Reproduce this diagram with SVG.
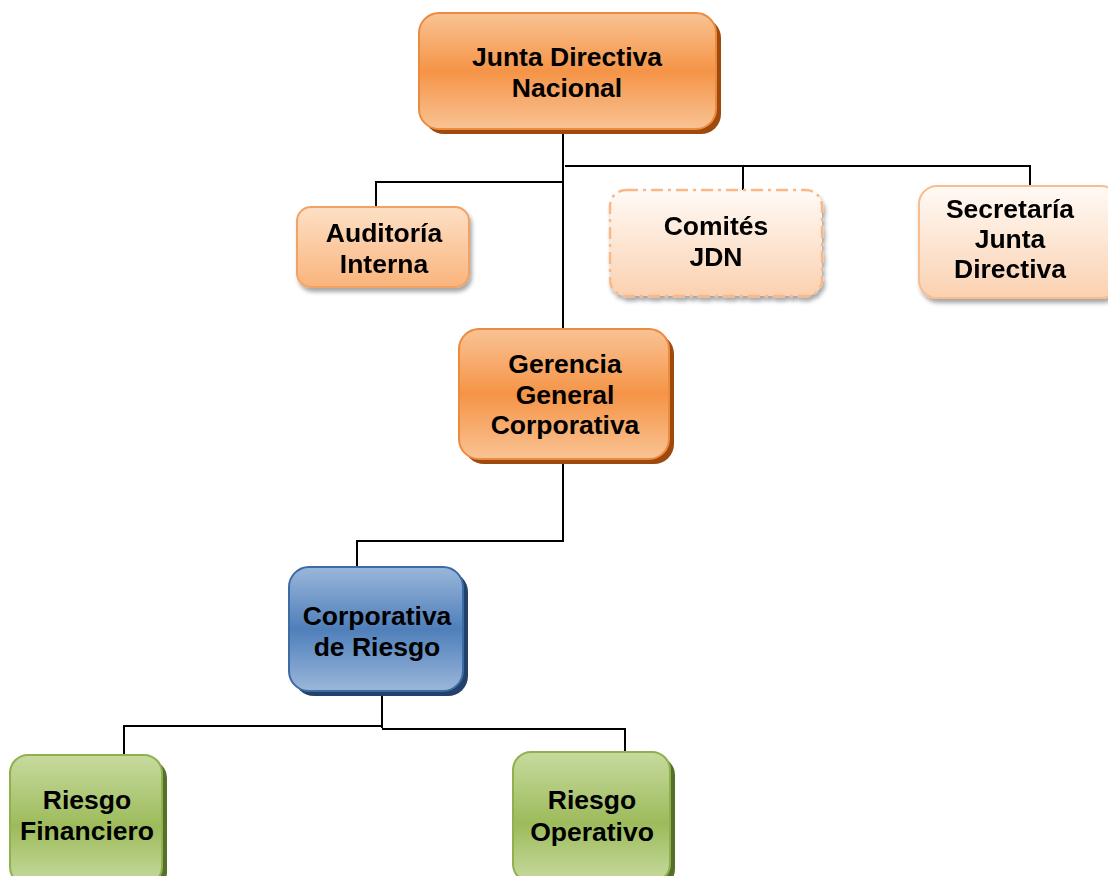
<svg xmlns="http://www.w3.org/2000/svg" width="1108" height="876" viewBox="0 0 1108 876">
<defs>
<linearGradient id="gOr" x1="0" y1="0" x2="0" y2="1">
<stop offset="0" stop-color="#f9c394"/><stop offset="0.5" stop-color="#f59447"/><stop offset="1" stop-color="#f9c394"/>
</linearGradient>
<linearGradient id="gAud" x1="0" y1="0" x2="0" y2="1">
<stop offset="0" stop-color="#fde0c6"/><stop offset="1" stop-color="#fab47c"/>
</linearGradient>
<linearGradient id="gLt" x1="0" y1="0" x2="0" y2="1">
<stop offset="0" stop-color="#fffaf6"/><stop offset="1" stop-color="#fbd1b0"/>
</linearGradient>
<linearGradient id="gBl" x1="0" y1="0" x2="0" y2="1">
<stop offset="0" stop-color="#9ab7da"/><stop offset="0.5" stop-color="#4f7fba"/><stop offset="1" stop-color="#9ab7da"/>
</linearGradient>
<linearGradient id="gGr" x1="0" y1="0" x2="0" y2="1">
<stop offset="0" stop-color="#c7da9f"/><stop offset="0.55" stop-color="#9dbb5b"/><stop offset="1" stop-color="#c7da9f"/>
</linearGradient>
<filter id="soft" x="-10%" y="-10%" width="130%" height="130%">
<feGaussianBlur in="SourceAlpha" stdDeviation="2"/>
<feOffset dx="2" dy="4" result="b"/>
<feComponentTransfer><feFuncA type="linear" slope="0.35"/></feComponentTransfer>
<feMerge><feMergeNode/><feMergeNode in="SourceGraphic"/></feMerge>
</filter>
</defs>
<style>
text{font-family:"Liberation Sans",Arial,sans-serif;font-weight:bold;font-size:26.5px;fill:#000;text-anchor:middle}
.ln{fill:none;stroke:#000;stroke-width:2}
.sOr{fill:#9e4a0c}
.sBl{fill:#24416a}
.sGr{fill:#55702a}
</style>
<rect width="1108" height="876" fill="#fff"/>
<g id="connectors">
<path class="ln" d="M563 131 V330"/>
<path class="ln" d="M563 131 V166" stroke-width="3.5"/>
<path class="ln" d="M565 166 H1030 V186"/>
<path class="ln" d="M743 166 V190"/>
<path class="ln" d="M563 182 H376 V207"/>
<path class="ln" d="M563 461 V541 H357 V567" stroke-width="1.3"/>
<path class="ln" d="M382 692 V728" stroke-width="3.5"/>
<path class="ln" d="M382 726 H124 V755"/>
<path class="ln" d="M382 729 H625 V752"/>
</g>
<g id="jdn">
<rect class="sOr" x="424" y="18" width="297" height="116" rx="20"/>
<rect x="419" y="13" width="297" height="116" rx="20" fill="url(#gOr)" stroke="#ec8a3e" stroke-width="2"/>
<text x="567" y="66">Junta Directiva</text>
<text x="567" y="97">Nacional</text>
</g>
<g id="auditoria" filter="url(#soft)">
<rect x="297" y="207" width="172" height="80" rx="14" fill="url(#gAud)" stroke="#f2a264" stroke-width="2"/>
<text x="384" y="242">Auditoría</text>
<text x="384" y="273">Interna</text>
</g>
<g id="comites" filter="url(#soft)">
<rect x="610" y="190" width="212" height="106" rx="16" fill="url(#gLt)" stroke="#f8b887" stroke-width="2.5" stroke-dasharray="12,5,3,5"/>
<text x="716" y="235">Comités</text>
<text x="716" y="266">JDN</text>
</g>
<g id="secretaria" filter="url(#soft)">
<rect x="919" y="186" width="200" height="112" rx="18" fill="url(#gLt)" stroke="#f8bd8e" stroke-width="2"/>
<text x="1010" y="218">Secretaría</text>
<text x="1010" y="248">Junta</text>
<text x="1010" y="278">Directiva</text>
</g>
<g id="gerencia">
<rect class="sOr" x="464" y="334" width="210" height="130" rx="20"/>
<rect x="459" y="329" width="210" height="130" rx="20" fill="url(#gOr)" stroke="#ec8a3e" stroke-width="2"/>
<text x="565" y="373">Gerencia</text>
<text x="565" y="404">General</text>
<text x="565" y="434">Corporativa</text>
</g>
<g id="corporativa">
<rect class="sBl" x="294" y="572" width="174" height="124" rx="20"/>
<rect x="289" y="567" width="174" height="124" rx="20" fill="url(#gBl)" stroke="#3d6ba3" stroke-width="2"/>
<text x="377" y="625">Corporativa</text>
<text x="377" y="656">de Riesgo</text>
</g>
<g id="financiero">
<rect class="sGr" x="15" y="760" width="152" height="130" rx="18"/>
<rect x="10" y="755" width="152" height="130" rx="18" fill="url(#gGr)" stroke="#8fb04c" stroke-width="2"/>
<text x="87" y="809">Riesgo</text>
<text x="87" y="840">Financiero</text>
</g>
<g id="operativo">
<rect class="sGr" x="518" y="757" width="157" height="130" rx="18"/>
<rect x="513" y="752" width="157" height="130" rx="18" fill="url(#gGr)" stroke="#8fb04c" stroke-width="2"/>
<text x="592" y="809">Riesgo</text>
<text x="592" y="841">Operativo</text>
</g>
</svg>
